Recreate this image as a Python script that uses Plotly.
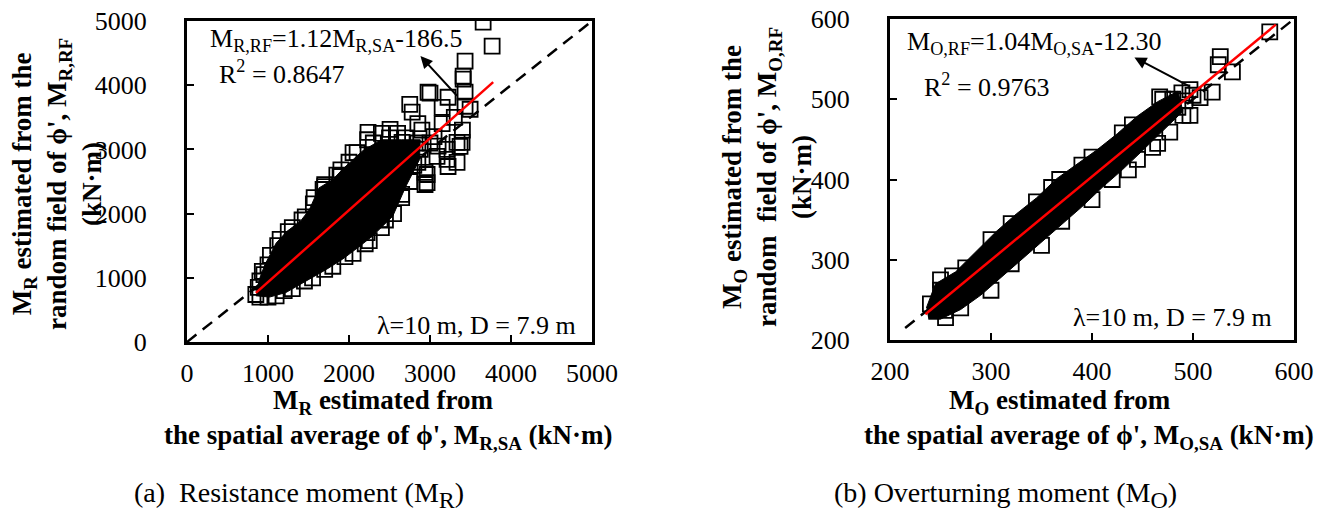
import plotly.graph_objects as go

W, H = 1330, 514
FONT = "Liberation Serif"

# ---------------- data: panel (a) resistance moment ----------------
a_core_x = [860, 900, 960, 1100, 1230, 1400, 1510, 1630, 1800, 1920, 2170, 2400, 2650, 2880,
            2870, 2700, 2540, 2290, 2130, 1920, 1720, 1430, 1220, 1020, 850]
a_core_y = [800, 1000, 1200, 1540, 1720, 1880, 2060, 2400, 2530, 2690, 2980, 3150, 3150, 3150,
            2840, 2420, 1960, 1650, 1490, 1290, 1130, 920, 770, 700, 720]
a_pts_x = [880, 950, 1000, 1120, 1250, 1420, 1560, 1700, 1900, 2050, 2230, 2400, 2600,
           850, 1000, 1200, 1450, 1700, 1950, 2200, 2450, 2650, 2800,
           900, 930, 1030, 1150, 1300, 1460, 1570, 1700, 1850, 2000, 2100, 2300, 2500, 2700, 2850,
           900, 1100, 1300, 1550, 1800, 2050, 2250, 2400, 2550, 2650, 2750, 2850, 2880,
           2750, 2780, 2976, 3000, 3223, 3150, 3495, 3433, 3433, 3409, 3409, 3433, 3656, 3767, 3334,
           3211, 3371, 3223, 2964, 2939, 3087, 2655, 2507, 3211, 3334, 3396, 2964, 2939, 2383, 2223,
           2235, 1890, 1680, 2900, 3050, 3150, 3300, 3400, 3100, 2850, 3000]
a_pts_y = [850, 1050, 1200, 1500, 1720, 1900, 2150, 2420, 2680, 2950, 3150, 3250, 3250,
           740, 700, 800, 950, 1130, 1330, 1530, 1900, 2300, 2750,
           950, 1100, 1350, 1600, 1780, 1950, 2250, 2450, 2600, 2800, 2950, 3100, 3180, 3180, 3100,
           700, 720, 830, 1000, 1180, 1380, 1580, 1780, 2000, 2250, 2500, 2800, 3000,
           3700, 3580, 3890, 3875, 3812, 3656, 3625, 3672, 3891, 4094, 4141, 4375, 4984, 4609, 3109,
           3000, 3047, 2734, 2484, 2641, 2891, 3109, 3312, 2844, 2797, 3109, 2609, 2453, 1906, 1703,
           3266, 2578, 2375, 3300, 3200, 3400, 3500, 3300, 3050, 3400, 3100]
a_fit_x = [850, 3780]
a_fit_y = [765, 4047]
a_diag = [0, 5000]
a_ticks = [0, 1000, 2000, 3000, 4000, 5000]

# ---------------- data: panel (b) overturning moment ----------------
b_core_x = [236, 245, 265, 285, 305, 325, 345, 365, 385, 405, 425, 445, 465, 485,
            490, 470, 450, 430, 410, 390, 370, 350, 330, 310, 290, 270, 250, 238]
b_core_y = [240, 270, 285, 310, 335, 357, 377, 401, 419, 437, 457, 479, 497, 510,
            485, 460, 436, 412, 390, 366, 344, 322, 300, 278, 256, 238, 226, 226]
b_pts_x = [240, 262, 300, 345, 390, 430, 470, 255, 300, 350, 400, 445,
           250, 275, 320, 360, 400, 440, 480, 270, 320, 370, 420, 460, 490,
           576, 527, 525, 539, 519, 507, 497, 489, 497, 467, 477, 465, 436, 368, 254, 250, 500, 492, 485]
b_pts_y = [245, 280, 325, 372, 418, 458, 500, 228, 262, 318, 375, 425,
           262, 290, 345, 390, 428, 468, 500, 240, 295, 348, 400, 440, 480,
           584, 553, 543, 534, 509, 502, 480, 508, 512, 503, 459, 445, 412, 400, 237, 275, 505, 498, 490]
b_fit_x = [235, 582]
b_fit_y = [232, 593]
b_diag = [215, 600]
b_ticks = [200, 300, 400, 500, 600]


def P(xpx, ypx):
    return xpx / W, 1 - ypx / H


fig = go.Figure()

panels = [
    dict(xa="x", ya="y", core=(a_core_x, a_core_y), pts=(a_pts_x, a_pts_y),
         fit=(a_fit_x, a_fit_y), diag=a_diag),
    dict(xa="x2", ya="y2", core=(b_core_x, b_core_y), pts=(b_pts_x, b_pts_y),
         fit=(b_fit_x, b_fit_y), diag=b_diag),
]
for p in panels:
    fig.add_trace(go.Scatter(x=p["diag"], y=p["diag"], mode="lines", xaxis=p["xa"], yaxis=p["ya"],
                             line=dict(color="black", width=2.5, dash="12px,8px"), showlegend=False,
                             hoverinfo="skip"))
    fig.add_trace(go.Scatter(x=p["core"][0], y=p["core"][1], mode="lines", fill="toself",
                             fillcolor="black", line=dict(color="black", width=1),
                             xaxis=p["xa"], yaxis=p["ya"], showlegend=False, hoverinfo="skip"))
    fig.add_trace(go.Scatter(x=p["pts"][0], y=p["pts"][1], mode="markers", xaxis=p["xa"], yaxis=p["ya"],
                             marker=dict(symbol="square-open", size=15, color="black",
                                         line=dict(color="black", width=1.8)),
                             showlegend=False))
    fig.add_trace(go.Scatter(x=p["fit"][0], y=p["fit"][1], mode="lines", xaxis=p["xa"], yaxis=p["ya"],
                             line=dict(color="#ff0000", width=2.5), showlegend=False))

axis_common = dict(showgrid=False, zeroline=False, showline=True, linecolor="black", linewidth=3,
                   mirror=True, ticks="inside", ticklen=7, tickwidth=2, tickcolor="black",
                   automargin=False,
                   tickfont=dict(family=FONT, size=26, color="black"))

ax_l = (187 / W, 592 / W)
ay_l = (1 - 342 / H, 1 - 21 / H)
ax_r = (890 / W, 1294 / W)
ay_r = (1 - 340 / H, 1 - 19 / H)

fig.update_layout(
    width=W, height=H, margin=dict(l=0, r=0, t=0, b=0, pad=0), autosize=False,
    paper_bgcolor="white", plot_bgcolor="white",
    xaxis=dict(domain=ax_l, range=[0, 5000], tickvals=a_ticks, anchor="y", ticklabelstandoff=6,
               **axis_common),
    yaxis=dict(domain=ay_l, range=[0, 5000], tickvals=a_ticks, anchor="x", ticklabelstandoff=32,
               **axis_common),
    xaxis2=dict(domain=ax_r, range=[200, 600], tickvals=b_ticks, anchor="y2", ticklabelstandoff=6,
                **axis_common),
    yaxis2=dict(domain=ay_r, range=[200, 600], tickvals=b_ticks, anchor="x2", ticklabelstandoff=32,
                **axis_common),
)

anns = []


def text(xpx, ypx, t, size=26, xanchor="center", yanchor="middle", angle=0):
    x, y = P(xpx, ypx)
    anns.append(dict(x=x, y=y, xref="paper", yref="paper", text=t, showarrow=False,
                     xanchor=xanchor, yanchor=yanchor, textangle=angle,
                     font=dict(family=FONT, size=size, color="black")))


BIG_SUB = '<sub><span style="font-size:24px">{}</span></sub>'

# panel (a) texts
text(208, 40, "M<sub>R,RF</sub>=1.12M<sub>R,SA</sub>-186.5", xanchor="left")
text(217, 73, "R<sup>2</sup> = 0.8647", xanchor="left")
text(578, 325, "λ=10 m, D = 7.9 m", xanchor="right")
text(57, 184, "<b>M<sub>R</sub> estimated from the<br>random field of ϕ', M<sub>R,RF</sub><br>(kN·m)</b>",
     size=27, angle=-90)
text(383, 402, "<b>M<sub>R</sub> estimated from</b>", size=27)
text(162, 437, "<b>the spatial average of ϕ', M<sub>R,SA</sub> (kN·m)</b>", size=27, xanchor="left")
text(132, 495, "(a)  Resistance moment (M" + BIG_SUB.format("R") + ")", size=28, xanchor="left")

# panel (b) texts
text(905, 43, "M<sub>O,RF</sub>=1.04M<sub>O,SA</sub>-12.30", xanchor="left")
text(922, 86, "R<sup>2</sup> = 0.9763", xanchor="left")
text(1274, 317, "λ=10 m, D = 7.9 m", xanchor="right")
text(767, 177, "<b>M<sub>O</sub> estimated from the<br>random&nbsp; field of ϕ', M<sub>O,RF</sub><br>(kN·m)</b>",
     size=27, angle=-90)
text(1060, 402, "<b>M<sub>O</sub> estimated from</b>", size=27)
text(862, 437, "<b>the spatial average of ϕ', M<sub>O,SA</sub> (kN·m)</b>", size=27, xanchor="left")
text(832, 495, "(b) Overturning moment (M" + BIG_SUB.format("O") + ")", size=28, xanchor="left")

# arrows
anns.append(dict(x=2882, y=4453, ax=3350, ay=3812, xref="x", yref="y", axref="x", ayref="y",
                 text="", showarrow=True, arrowhead=2, arrowsize=1.2, arrowwidth=2, arrowcolor="black"))
anns.append(dict(x=442, y=552, ax=498, ay=515, xref="x2", yref="y2", axref="x2", ayref="y2",
                 text="", showarrow=True, arrowhead=2, arrowsize=1.2, arrowwidth=2, arrowcolor="black"))

fig.update_layout(annotations=anns, hovermode=False)
fig.write_html("out.html", config={"displayModeBar": False, "staticPlot": True},
               post_script="document.body.style.margin='0px';")
